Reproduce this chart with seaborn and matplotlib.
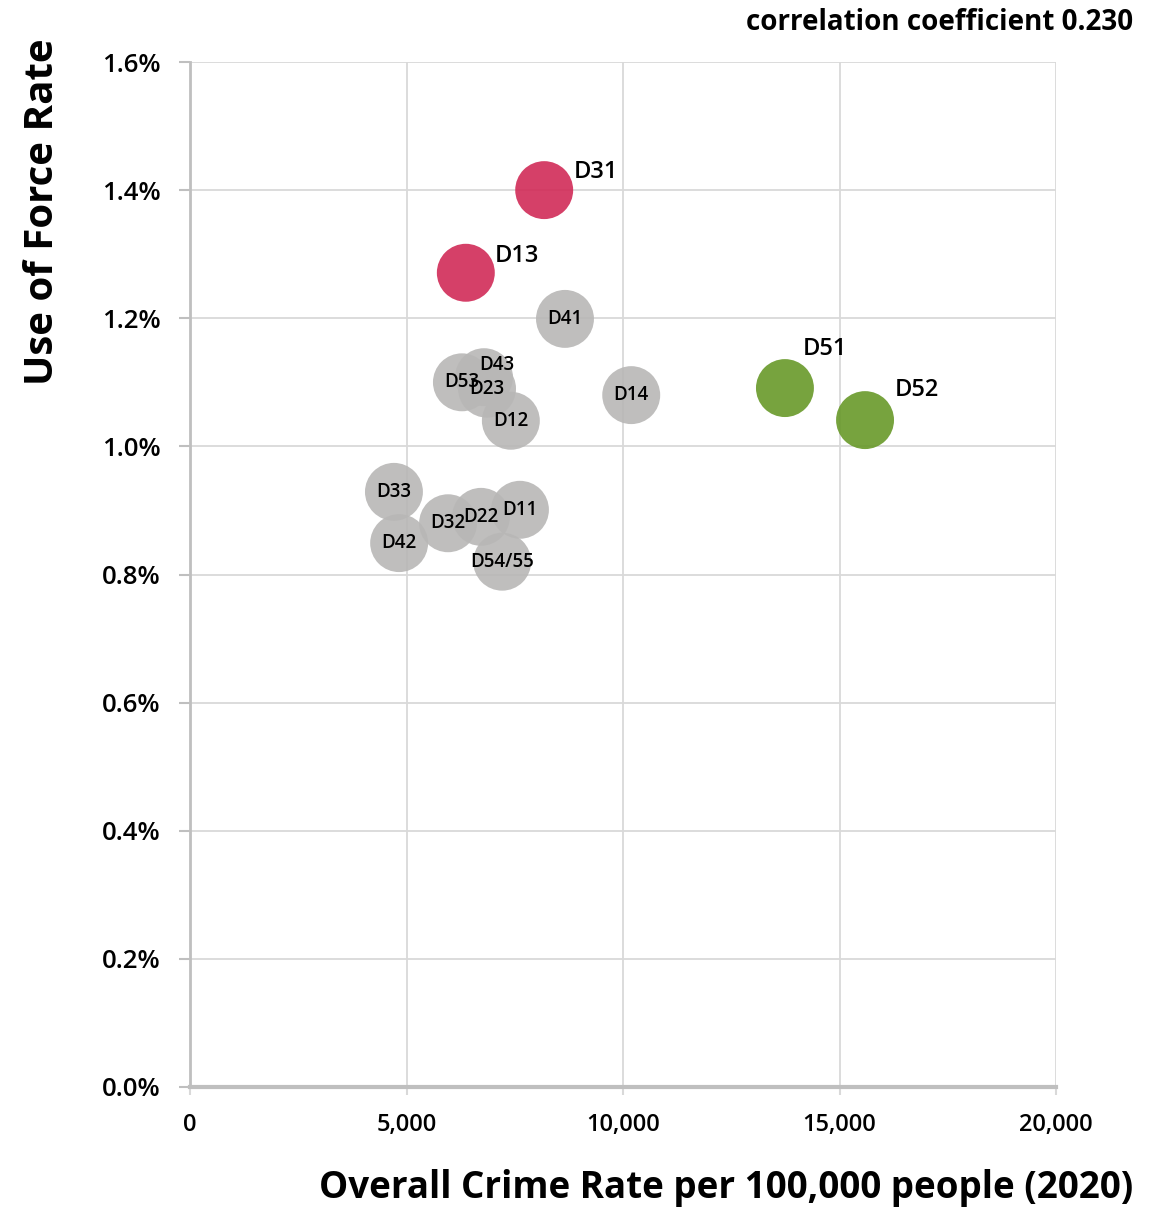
import matplotlib
matplotlib.use("Agg")
import matplotlib.pyplot as plt
import seaborn as sns
import pandas as pd
from matplotlib.ticker import FuncFormatter, FixedLocator

# ---- data ----
districts = ["D31", "D13", "D41", "D14", "D51", "D52", "D53", "D43", "D23",
             "D12", "D33", "D42", "D32", "D22", "D11", "D54/55"]
crime_rate = [8180, 6370, 8660, 10190, 13740, 15590, 6280, 6790, 6860,
              7410, 4710, 4830, 5960, 6720, 7620, 7210]
force_rate = [1.400, 1.271, 1.199, 1.080, 1.091, 1.041, 1.100, 1.108, 1.090,
              1.040, 0.929, 0.849, 0.880, 0.890, 0.901, 0.820]
groups = ["high", "high", "mid", "mid", "low", "low", "mid", "mid", "mid",
          "mid", "mid", "mid", "mid", "mid", "mid", "mid"]
x_ticks = [0, 5000, 10000, 15000, 20000]
y_ticks = [0.0, 0.2, 0.4, 0.6, 0.8, 1.0, 1.2, 1.4, 1.6]
corr_text = "correlation coefficient 0.230"
x_title = "Overall Crime Rate per 100,000 people (2020)"
y_title = "Use of Force Rate"

df = pd.DataFrame({"district": districts, "crime": crime_rate,
                   "force": force_rate, "group": groups})

palette = {"high": "#D12B57", "low": "#689929", "mid": "#B8B7B6"}

sns.set_theme(style="white")
plt.rcParams["font.family"] = ["Open Sans", "DejaVu Sans"]
plt.rcParams["text.color"] = "black"
plt.rcParams["xtick.color"] = "black"
plt.rcParams["ytick.color"] = "black"

fig = plt.figure(figsize=(11.61, 12.08), dpi=100)
ax = fig.add_axes([190/1161, 1 - 1087/1208, 866/1161, 1025/1208])

sns.scatterplot(data=df, x="crime", y="force", hue="group", palette=palette,
                s=1740, alpha=0.9, linewidth=0, legend=False, ax=ax, zorder=3)

ax.set_xlim(0, 20000)
ax.set_ylim(0, 1.6)
ax.xaxis.set_major_locator(FixedLocator(x_ticks))
ax.yaxis.set_major_locator(FixedLocator(y_ticks))
ax.xaxis.set_major_formatter(FuncFormatter(lambda v, p: f"{int(v):,}"))
ax.yaxis.set_major_formatter(FuncFormatter(lambda v, p: f"{v:.1f}%"))

ax.grid(True, color="#D9D9D9", linewidth=1.3, zorder=0)
ax.set_axisbelow(True)
for s in ["top", "right"]:
    ax.spines[s].set_visible(False)
ax.spines["left"].set_color("#BFBFBF")
ax.spines["left"].set_linewidth(2)
ax.spines["bottom"].set_color("#BFBFBF")
ax.spines["bottom"].set_linewidth(3)
ax.tick_params(axis="y", direction="out", length=8, width=1.5, color="#BFBFBF",
               labelsize=18.5, pad=13, left=True, labelcolor="black")
ax.tick_params(axis="x", direction="out", length=6, width=1.5, color="#D9D9D9",
               labelsize=17, pad=13, bottom=True, labelcolor="black")
for lab in ax.get_xticklabels() + ax.get_yticklabels():
    lab.set_fontweight("semibold")

ax.set_xlabel("")
ax.set_ylabel("")

# labels
offsets = {"D31": (37, 13), "D13": (37, 12), "D51": (29, 28), "D52": (37, 22),
           "D43": (9, 9)}
for d, x, y, g in zip(districts, crime_rate, force_rate, groups):
    if g == "mid":
        off = offsets.get(d, (0, 0))
        ax.annotate(d, (x, y), xytext=off, textcoords="offset points",
                    ha="center", va="center", fontsize=13.5,
                    fontweight="semibold", color="black", zorder=5)
    else:
        off = offsets[d]
        ax.annotate(d, (x, y), xytext=off, textcoords="offset points",
                    ha="center", va="center", fontsize=17,
                    fontweight="semibold", color="black", zorder=5)

fig.text(1133/1161, 1 - 22/1208, corr_text, ha="right", va="center",
         fontsize=20, fontweight="bold", color="black")
fig.text(1133/1161, 1 - 1188/1208, x_title, ha="right", va="center",
         fontsize=26.5, fontweight="bold", color="black")
fig.text(43/1161, 1 - 38/1208, y_title, ha="center", va="top", rotation=90,
         fontsize=29, fontweight="bold", color="black")

fig.savefig("out.png", dpi=100)
